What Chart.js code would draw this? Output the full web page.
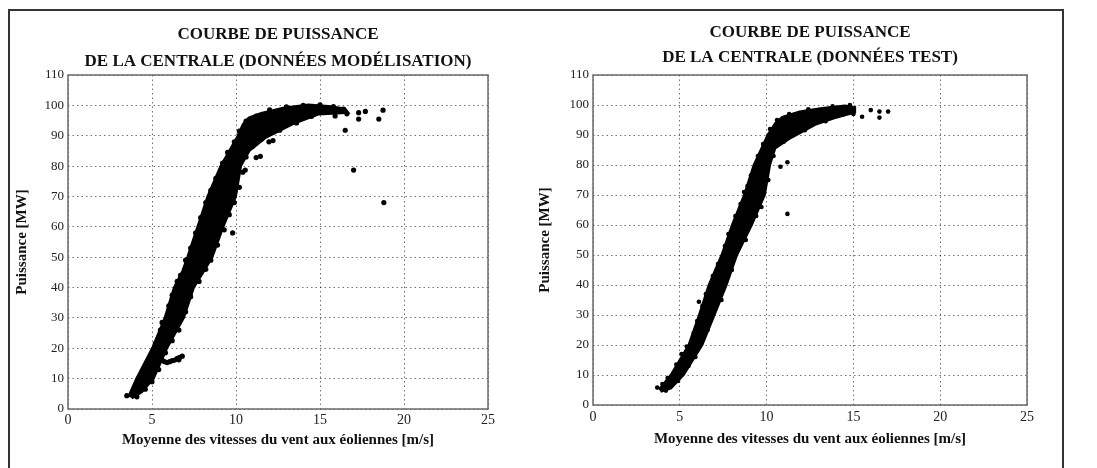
<!DOCTYPE html>
<html>
<head>
<meta charset="utf-8">
<script src="https://cdn.jsdelivr.net/npm/chart.js@4.4.0/dist/chart.umd.min.js"></script>
<style>
    body { margin: 0; background: #fff; width: 1097px; height: 468px; overflow: hidden; position: relative; }
    #frame { position: absolute; left: 8px; top: 9px; width: 1052px; height: 480px; border: 2px solid #333; }
    #model-chart { position: absolute; left: 0; top: 0; }
    #test-chart { position: absolute; left: 530px; top: 0; }
</style>
</head>
<body>
<div id="frame"></div>
<canvas id="model-chart" width="530" height="468"></canvas>
<canvas id="test-chart" width="567" height="468"></canvas>
<script>
// ========================================
// Data
// ========================================
const xTicks = [0, 5, 10, 15, 20, 25];
const yTicks = [0, 10, 20, 30, 40, 50, 60, 70, 80, 90, 100, 110];

// Left: modelling data - outline of the dense cloud (up left edge, back down right edge)
const modelBandV = [3.6, 4.06, 5.0, 5.75, 6.3, 6.8, 7.1, 7.7, 8.3, 9.07, 10.1, 10.4, 10.75, 11.5, 12.8, 14.3, 15.5, 16.5,
    16.7, 14.9, 13.4, 11.8, 10.8, 10.3, 10.0, 9.25, 8.6, 8.1, 7.5, 6.9, 5.9, 5.1, 4.4, 3.8];
const modelBandP = [4.2, 10, 20, 30, 40, 45.4, 50, 60, 70, 80, 90, 93.8, 96, 97.5, 99.2, 100.3, 99.8, 99,
    97.5, 97, 93.8, 89.4, 85, 80, 70, 60, 50, 45.4, 40, 30, 20, 10, 5.5, 3.5];

// Left: loose points (ragged edges, small hook, outliers)
const modelDotsV = [3.5, 3.9, 4.2, 4.5, 4.8, 5.2, 5.5, 5.6, 6.0, 6.2, 6.5, 6.7, 7.0, 7.3, 7.6, 7.9, 8.2, 8.5, 8.8, 9.2,
    9.5, 9.9, 10.2, 10.6, 11.2, 12.0, 13.0, 14.0, 15.0, 15.8, 16.4,
    16.6, 15.9, 14.5, 13.6, 12.6, 12.2, 11.5, 11.0, 10.6, 10.4, 10.2, 9.9, 9.6, 9.3, 8.9, 8.5, 8.2, 7.8, 7.3, 7.0,
    6.6, 6.2, 5.8, 5.4, 5.0, 4.6, 4.1,
    5.6, 5.75, 5.9, 6.05, 6.2, 6.35, 6.5, 6.65, 6.8, 6.6,
    9.8, 10.55, 11.2, 11.45, 11.96, 12.2, 16.5, 17.3, 17.7, 17.3, 17.0, 18.5, 18.75, 18.8];
const modelDotsP = [4.4, 5.6, 9.5, 12.5, 16, 21.5, 26, 28.5, 34, 37.5, 42, 44, 49, 53, 58, 63, 68, 72, 76, 81,
    84.5, 88, 91.5, 94.8, 96.5, 98.5, 99.5, 100, 100.2, 99.6, 98.8,
    97.2, 96.5, 96.4, 94.2, 91.8, 91.2, 88.8, 86.5, 83, 78, 73, 68, 64, 59, 54, 49, 46, 42, 37, 32,
    26, 22.5, 18.5, 13, 9, 6.5, 4,
    16.2, 15.6, 15.3, 15.6, 15.9, 16.1, 16.7, 17.0, 17.4, 16.2,
    58, 78.7, 82.8, 83.2, 88, 88.4, 91.8, 97.6, 98, 95.5, 78.7, 95.5, 98.4, 68];

// Right: test data - outline of the dense cloud
const testBandV = [3.8, 4.47, 5.5, 6.1, 6.66, 7.4, 8.0, 8.7, 9.25, 10.05, 10.5, 10.9, 11.9, 13.2, 14.5, 15.1,
    15.1, 13.9, 12.8, 11.4, 10.5, 10.2, 9.9, 9.15, 8.3, 7.7, 7.0, 6.3, 5.23, 4.5, 3.9];
const testBandP = [5.2, 10, 20, 30, 40, 50, 60, 70, 80, 90, 94, 96, 97.8, 99, 99.8, 99.3,
    97.5, 95.6, 93.4, 89, 85.5, 80, 70, 60, 50, 40, 30, 20, 10, 5.5, 4.4];

// Right: loose points
const testDotsV = [3.7, 4.0, 4.3, 4.8, 5.1, 5.4, 5.8, 6.0, 6.3, 6.5, 6.9, 7.2, 7.6, 7.8, 8.2, 8.5, 8.9, 9.1, 9.5, 9.8,
    10.2, 10.6, 11.3, 12.4, 13.8, 14.8,
    15.0, 14.4, 13.4, 12.2, 11.0, 10.4, 10.1, 9.7, 9.4, 8.8, 8.0, 7.4, 6.6, 5.9, 5.5, 4.9, 4.2,
    6.1, 8.7, 10.8, 11.2, 11.2, 15.5, 16.0, 16.5, 16.5, 17.0];
const testDotsP = [5.8, 7, 9, 13.5, 17, 19.5, 24, 28, 33, 37, 43, 47, 53, 57, 63, 67, 73, 76.5, 83, 87,
    92, 95, 97, 98.6, 99.6, 100,
    97, 96.8, 94.6, 91.6, 87.8, 83, 75, 66, 63, 55, 45, 35, 25, 16, 13, 8, 4.8,
    34.4, 71, 79.4, 80.9, 63.7, 96.1, 98.3, 97.8, 95.8, 97.8];

const xLabel = 'Moyenne des vitesses du vent aux éoliennes [m/s]';
const yLabel = 'Puissance [MW]';

Chart.defaults.font.family = "'Liberation Serif', 'DejaVu Serif', serif";
Chart.defaults.color = '#111';
Chart.defaults.plugins.legend.display = false;
Chart.defaults.plugins.tooltip.enabled = false;

const zip = (xs, ys) => xs.map((x, i) => ({ x: x, y: ys[i] }));

// box round the plot area
const frameBox = {
    id: 'frameBox',
    afterDraw(chart) {
        const a = chart.chartArea;
        const c = chart.ctx;
        c.save();
        c.strokeStyle = '#6a6a6a';
        c.lineWidth = 1.5;
        c.strokeRect(a.left, a.top, a.right - a.left, a.bottom - a.top);
        c.restore();
    }
};

function makeChart(id, cfg) {
    const ctx = document.getElementById(id);
    return new Chart(ctx, {
        type: 'scatter',
        data: {
            datasets: [
                {
                    data: zip(cfg.bandV, cfg.bandP),
                    showLine: true,
                    fill: 'shape',
                    borderColor: '#000',
                    backgroundColor: '#000',
                    borderWidth: 2,
                    pointRadius: 0
                },
                {
                    data: zip(cfg.dotsV, cfg.dotsP),
                    backgroundColor: '#000',
                    borderColor: '#000',
                    pointRadius: cfg.dotRadius,
                    borderWidth: 0
                }
            ]
        },
        options: {
            responsive: false,
            animation: false,
            devicePixelRatio: 1,
            layout: { padding: cfg.padding },
            plugins: {
                title: {
                    display: true,
                    text: cfg.title,
                    fullSize: false,
                    color: '#111',
                    font: { size: 17, weight: 'bold', lineHeight: cfg.titleLine + 'px' },
                    padding: cfg.titlePad
                }
            },
            scales: {
                x: {
                    type: 'linear',
                    min: xTicks[0],
                    max: xTicks[xTicks.length - 1],
                    afterBuildTicks: (s) => { s.ticks = xTicks.map(v => ({ value: v })); },
                    afterFit: (s) => { s.height = cfg.xHeight; },
                    grid: { color: 'rgba(0,0,0,0.55)', drawTicks: false },
                    border: { display: false, dash: [1.5, 3] },
                    ticks: { padding: cfg.xTickPad, font: { size: 14 }, color: '#222' },
                    title: { display: true, text: xLabel, font: { size: 15, weight: 'bold', lineHeight: '18px' }, color: '#111' }
                },
                y: {
                    type: 'linear',
                    min: yTicks[0],
                    max: yTicks[yTicks.length - 1],
                    afterBuildTicks: (s) => { s.ticks = yTicks.map(v => ({ value: v })); },
                    afterFit: (s) => { s.width = cfg.yWidth; },
                    grid: { color: 'rgba(0,0,0,0.55)', drawTicks: false },
                    border: { display: false, dash: [1.5, 3] },
                    ticks: { padding: 4, font: { size: 13 }, color: '#222' },
                    title: { display: true, text: yLabel, font: { size: 15, weight: 'bold', lineHeight: '18px' }, color: '#111' }
                }
            }
        },
        plugins: [frameBox]
    });
}

makeChart('model-chart', {
    bandV: modelBandV, bandP: modelBandP,
    dotsV: modelDotsV, dotsP: modelDotsP,
    dotRadius: 2.6,
    title: ['COURBE DE PUISSANCE', 'DE LA CENTRALE (DONNÉES MODÉLISATION)'],
    titleLine: 27,
    titlePad: { top: 21, bottom: 0 },
    padding: { top: 0, left: 9, right: 42, bottom: 15 },
    xHeight: 44,
    xTickPad: 3,
    yWidth: 59
});

makeChart('test-chart', {
    bandV: testBandV, bandP: testBandP,
    dotsV: testDotsV, dotsP: testDotsP,
    dotRadius: 2.3,
    title: ['COURBE DE PUISSANCE', 'DE LA CENTRALE (DONNÉES TEST)'],
    titleLine: 25,
    titlePad: { top: 20, bottom: 5 },
    padding: { top: 0, left: 2, right: 70, bottom: 16 },
    xHeight: 47,
    xTickPad: 4,
    yWidth: 61
});
</script>
</body>
</html>
